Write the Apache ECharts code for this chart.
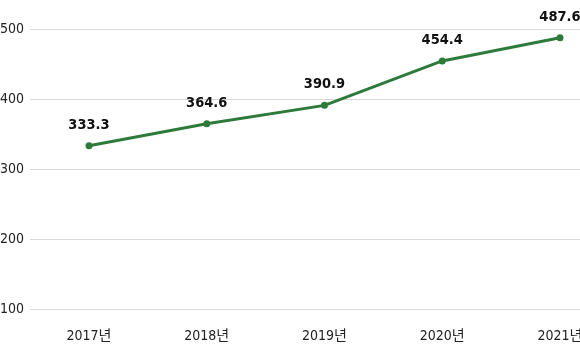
<!DOCTYPE html>
<html><head><meta charset="utf-8">
<script src="https://cdn.jsdelivr.net/npm/echarts@6/dist/echarts.min.js"></script>
<style>html,body{margin:0;padding:0;background:#fff}#c{width:580px;height:360px}</style>
</head><body><div id="c"></div>
<script>
var categories = ['2017년', '2018년', '2019년', '2020년', '2021년'];
var values = [333.3, 364.6, 390.9, 454.4, 487.6];
var yTicks = [100, 200, 300, 400, 500];

var FONT = "'DejaVu Sans Condensed', 'Liberation Sans Narrow', 'Noto Sans CJK KR', sans-serif";
var chart = echarts.init(document.getElementById('c'));
chart.setOption({
  animation: false,
  grid: [
    {left: 89, right: 20, top: 29, bottom: 51, outerBoundsMode: 'none', containLabel: false},
    {left: 30, right: 0, top: 29, bottom: 51, outerBoundsMode: 'none', containLabel: false}
  ],
  xAxis: [
    {type: 'category', gridIndex: 0, data: categories, boundaryGap: false,
     axisLine: {show: false}, axisTick: {show: false},
     axisLabel: {color: '#222', fontSize: 14, fontFamily: FONT, margin: 20}},
    {type: 'category', gridIndex: 1, data: categories, show: false}
  ],
  yAxis: [
    {type: 'value', gridIndex: 0, min: yTicks[0], max: yTicks[yTicks.length-1], interval: 100, show: false},
    {type: 'value', gridIndex: 1, min: yTicks[0], max: yTicks[yTicks.length-1], interval: 100,
     axisLine: {show: false}, axisTick: {show: false},
     axisLabel: {color: '#222', fontSize: 14, fontFamily: FONT, margin: 6},
     splitLine: {lineStyle: {color: '#d9d9d9', width: 1}}}
  ],
  series: [{
    type: 'line', xAxisIndex: 0, yAxisIndex: 0, data: values,
    lineStyle: {color: '#2e7a3b', width: 3},
    itemStyle: {color: '#2e7a3b'},
    symbol: 'circle', symbolSize: 7,
    label: {show: true, position: 'top', distance: 10, color: '#111', fontWeight: 'bold',
            fontSize: 14.5, fontFamily: FONT,
            formatter: function(p){ return p.value.toFixed(1); }}
  }]
});
</script></body></html>
